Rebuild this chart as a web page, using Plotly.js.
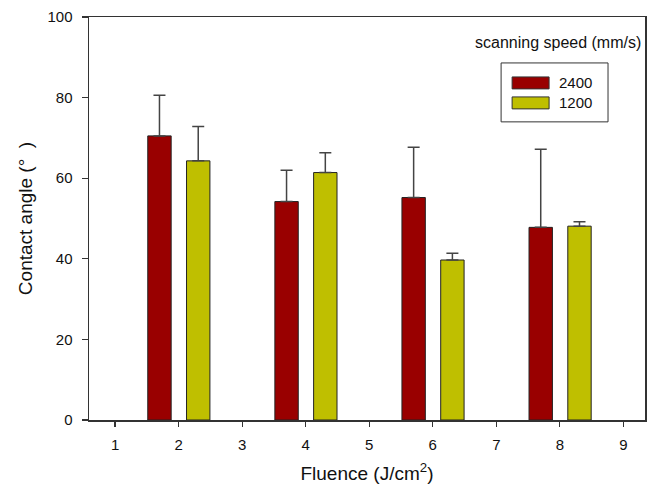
<!DOCTYPE html>
<html>
<head>
<meta charset="utf-8">
<script src="https://cdn.plot.ly/plotly-3.0.1.min.js"></script>
<style>html,body{margin:0;padding:0;background:#fff;}#chart{width:653px;height:490px;}</style>
</head>
<body>
<div id="chart"></div>
<script>
const fluence = [2, 4, 6, 8];
const angle2400 = [70.5, 54.2, 55.2, 47.8];
const err2400 = [10.1, 7.8, 12.5, 19.4];
const angle1200 = [64.3, 61.4, 39.7, 48.1];
const err1200 = [8.5, 4.9, 1.7, 1.1];
const xTicks = [1, 2, 3, 4, 5, 6, 7, 8, 9];
const yTicks = [0, 20, 40, 60, 80, 100];
const seriesNames = ['2400', '1200'];
const seriesColors = ['#990000', '#bfbf00'];

const traces = [
  {
    type: 'bar', name: seriesNames[0], x: fluence, y: angle2400,
    width: 0.368, offset: -0.485,
    marker: {color: seriesColors[0], line: {color: '#222', width: 1}},
    error_y: {type: 'data', array: err2400, arrayminus: angle2400.map(() => 0), symmetric: false, color: '#444', thickness: 1.5, width: 6}
  },
  {
    type: 'bar', name: seriesNames[1], x: fluence, y: angle1200,
    width: 0.368, offset: 0.125,
    marker: {color: seriesColors[1], line: {color: '#222', width: 1}},
    error_y: {type: 'data', array: err1200, arrayminus: angle1200.map(() => 0), symmetric: false, color: '#444', thickness: 1.5, width: 6}
  }
];

// custom legend (box, wide swatches, labels) in paper coordinates
const legendShapes = [
  {type: 'rect', xref: 'paper', yref: 'paper', x0: 0.7412, x1: 0.9335, y0: 0.7398, y1: 0.8860,
   line: {color: '#333', width: 1}, fillcolor: '#fff'},
  {type: 'rect', xref: 'paper', yref: 'paper', x0: 0.7610, x1: 0.8275, y0: 0.8216, y1: 0.8513,
   line: {color: '#333', width: 1}, fillcolor: seriesColors[0]},
  {type: 'rect', xref: 'paper', yref: 'paper', x0: 0.7610, x1: 0.8275, y0: 0.7720, y1: 0.8017,
   line: {color: '#333', width: 1}, fillcolor: seriesColors[1]}
];
const legendLabels = [
  {text: seriesNames[0], xref: 'paper', yref: 'paper', x: 0.8419, y: 0.8364, xanchor: 'left', yanchor: 'middle',
   showarrow: false, font: {size: 15}},
  {text: seriesNames[1], xref: 'paper', yref: 'paper', x: 0.8419, y: 0.7869, xanchor: 'left', yanchor: 'middle',
   showarrow: false, font: {size: 15}},
  {text: 'scanning speed (mm/s)', xref: 'paper', yref: 'paper', x: 0.9964, y: 0.9356,
   xanchor: 'right', yanchor: 'middle', showarrow: false, font: {size: 16}}
];

const layout = {
  width: 653, height: 490,
  margin: {l: 88.5, r: 8, t: 17, b: 69.5},
  paper_bgcolor: '#fff', plot_bgcolor: '#fff',
  font: {family: 'Liberation Sans, Arial, sans-serif', color: '#111', size: 15},
  showlegend: false,
  xaxis: {
    range: [0.59, 9.34], tickvals: xTicks, ticktext: xTicks.map(String),
    ticks: 'outside', ticklen: 5, tickcolor: '#333', tickwidth: 1.2,
    showline: true, linecolor: '#333', linewidth: 1.5, mirror: true,
    showgrid: false, zeroline: false,
    tickfont: {size: 15}, ticklabelstandoff: 5,
    title: {text: 'Fluence (J/cm<sup>2</sup>)', font: {size: 19}, standoff: 15}
  },
  yaxis: {
    range: [0, 100], tickvals: yTicks,
    ticks: 'outside', ticklen: 6, tickcolor: '#333', tickwidth: 1.2,
    showline: true, linecolor: '#333', linewidth: 1.5, mirror: true,
    showgrid: false, zeroline: false,
    tickfont: {size: 15}, ticklabelstandoff: 6,
    title: {text: 'Contact angle (°  )', font: {size: 19}, standoff: 10}
  },
  shapes: legendShapes,
  annotations: legendLabels
};

Plotly.newPlot('chart', traces, layout, {displayModeBar: false, staticPlot: true});
</script>
</body>
</html>
